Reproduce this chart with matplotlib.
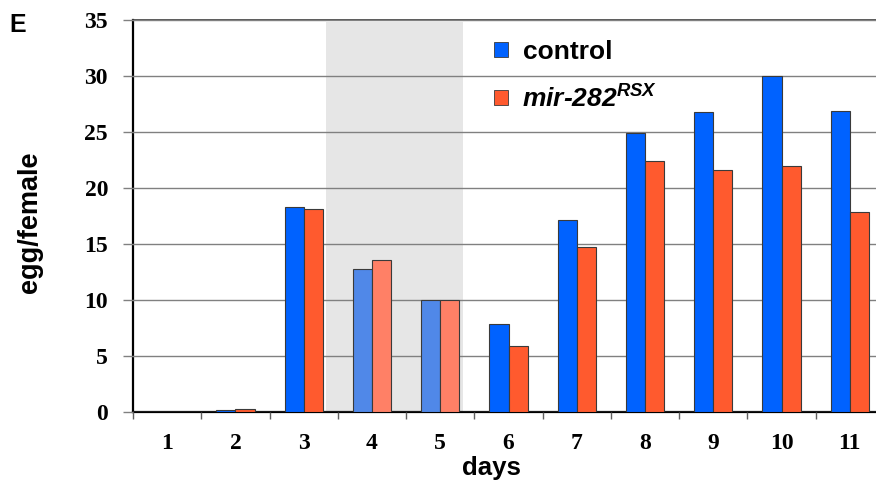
import numpy as np
import matplotlib.pyplot as plt
from matplotlib.patches import Patch

days = [1, 2, 3, 4, 5, 6, 7, 8, 9, 10, 11]
control = [0, 0.15, 18.3, 12.8, 10.0, 7.9, 17.1, 24.9, 26.8, 30.0, 26.9]
mutant = [0, 0.25, 18.1, 13.6, 10.0, 5.9, 14.7, 22.4, 21.6, 22.0, 17.9]
shaded_days = [4, 5]

plt.rcParams['mathtext.fontset'] = 'custom'
plt.rcParams['mathtext.rm'] = 'Liberation Sans:italic:bold'
plt.rcParams['mathtext.it'] = 'Liberation Sans:italic:bold'
plt.rcParams['mathtext.default'] = 'rm'

W, H = 876, 488
fig = plt.figure(figsize=(W / 100, H / 100), dpi=100)
ax = fig.add_axes([133 / W, 1 - 412 / H, (884 - 133) / W, (412 - 20) / H])

blue, orange = '#0062FF', '#FF5A2E'
blue_l, orange_l = '#5088E8', '#FF8066'
x = np.array(days)
cb = [blue_l if d in shaded_days else blue for d in days]
co = [orange_l if d in shaded_days else orange for d in days]
w = 0.28
ax.bar(x - w / 2, control, w, color=cb, edgecolor='#3a3a3a', linewidth=0.8, zorder=3)
ax.bar(x + w / 2, mutant, w, color=co, edgecolor='#3a3a3a', linewidth=0.8, zorder=3)

ax.axvspan(3.33, 5.33, ymin=0, ymax=34.85 / 35, color='#E6E6E6', zorder=0, lw=0)

ax.set_xlim(0.5, 11.5)
ax.set_ylim(0, 35)
ax.set_yticks(np.arange(0, 36, 5))
ax.yaxis.grid(True, color='#808080', linewidth=1.0, zorder=1)
ax.set_axisbelow(False)
ax.spines['right'].set_visible(False)
ax.spines['top'].set_color('#404040')
ax.spines['top'].set_linewidth(1.2)
ax.spines['left'].set_linewidth(1.6)
ax.spines['bottom'].set_linewidth(1.6)

ax.set_xticks(x)
ax.set_xticks(np.arange(0.5, 11.0, 1.0), minor=True)
ax.tick_params(axis='x', which='major', length=0, pad=15)
ax.tick_params(axis='x', which='minor', length=5, color='#606060', width=1)
ax.tick_params(axis='y', length=7, color='#808080', width=1, pad=11)
for lab in ax.get_xticklabels() + ax.get_yticklabels():
    lab.set_fontfamily('Liberation Serif')
    lab.set_fontweight('bold')
    lab.set_fontsize(17)

handles = [Patch(facecolor=blue, edgecolor='#3a3a3a', lw=0.6),
           Patch(facecolor=orange, edgecolor='#3a3a3a', lw=0.6)]
leg = ax.legend(handles, ['control', 'mir-282$^{RSX}$'], frameon=False,
                loc='upper left', bbox_to_anchor=((494 - 133) / (884 - 133), 1 - (40 - 20) / 392),
                borderaxespad=0, borderpad=0,
                handlelength=0.53, handleheight=0.5, handletextpad=0.55,
                labelspacing=0.8, prop={'family': 'Liberation Sans', 'weight': 'bold', 'size': 19})
leg.get_texts()[1].set_fontstyle('italic')

fig.text(30 / W, 1 - 222 / H, 'egg/female', rotation=90, ha='center', va='center',
         fontsize=19.5, fontweight='bold', family='Liberation Sans')
fig.text(491 / W, 1 - 468 / H, 'days', ha='center', va='center',
         fontsize=18.5, fontweight='bold', family='Liberation Sans')
fig.text(18 / W, 1 - 25 / H, 'E', ha='center', va='center',
         fontsize=18, fontweight='bold', family='Liberation Sans')

fig.savefig('out.png', dpi=100)
